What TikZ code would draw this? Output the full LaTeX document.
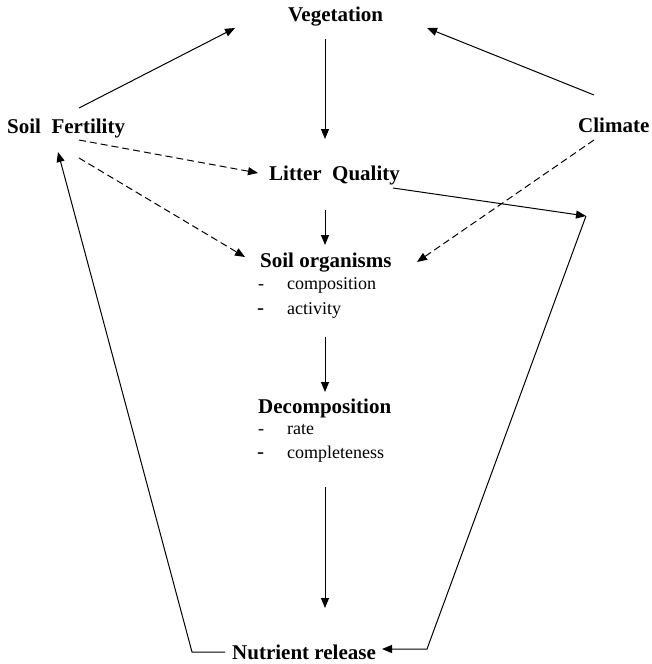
\documentclass[tikz,border=0pt]{standalone}
\usepackage{fontspec}
\setmainfont{Liberation Serif}
\usetikzlibrary{arrows.meta}
\tikzset{
  title/.style={anchor=base west, inner sep=0pt, font=\fontsize{21}{25}\selectfont\bfseries},
  item/.style={anchor=base west, inner sep=0pt, font=\fontsize{18}{22}\selectfont},
  conn/.style={line width=1pt, -{Triangle[length=10pt,width=8pt]}},
  dconn/.style={conn, dash pattern=on 7pt off 4pt},
  plain/.style={line width=1pt}
}
\begin{document}
\begin{tikzpicture}[x=1pt,y=-1pt]
\useasboundingbox (0,0) rectangle (652,664);
% text nodes
\node[title] (veg) at (288,21) {Vegetation};
\node[title] (sf) at (7,133) {Soil\ \ Fertility};
\node[title] (clim) at (578,132) {Climate};
\node[title] (lq) at (269,180) {Litter\ \ Quality};
\node[title] (so) at (260,267) {Soil organisms};
\node[item] (so-d1) at (258,289) {-};
\node[item] (so-i1) at (287,289) {composition};
\node[item] (so-d2) at (257,314) {\fontsize{21}{25}\selectfont -};
\node[item] (so-i2) at (287,314) {activity};
\node[title] (dec) at (258,413) {Decomposition};
\node[item] (dec-d1) at (258,434) {-};
\node[item] (dec-i1) at (287,434) {rate};
\node[item] (dec-d2) at (257,458) {\fontsize{21}{25}\selectfont -};
\node[item] (dec-i2) at (287,458) {completeness};
\node[title] (nr) at (232,659) {Nutrient release};
% connector end points
\coordinate (sf-a) at (79,108);
\coordinate (sf-b) at (79,140);
\coordinate (sf-c) at (79,158);
\coordinate (sf-in) at (58,152);
\coordinate (veg-l) at (235,28);
\coordinate (veg-r) at (427,28);
\coordinate (veg-b) at (325,39);
\coordinate (clim-a) at (594,95);
\coordinate (clim-b) at (594,140);
\coordinate (lq-t) at (325,139);
\coordinate (lq-l) at (258,173);
\coordinate (lq-b) at (325,210);
\coordinate (lq-r) at (393,188);
\coordinate (corner) at (586,216);
\coordinate (so-t) at (325,245);
\coordinate (so-l) at (245,257);
\coordinate (so-r) at (417,262);
\coordinate (so-b) at (325,337);
\coordinate (dec-t) at (325,392);
\coordinate (dec-b) at (325,487);
\coordinate (nr-t) at (325,608);
\coordinate (nr-r) at (382,649);
\coordinate (nr-rc) at (427,649);
\coordinate (nr-l) at (225,652);
\coordinate (nr-lc) at (192,652);
% connectors
\draw[conn] (sf-a) -- (veg-l);
\draw[conn] (clim-a) -- (veg-r);
\draw[conn] (veg-b) -- (lq-t);
\draw[dconn] (sf-b) -- (lq-l);
\draw[dconn] (sf-c) -- (so-l);
\draw[dconn] (clim-b) -- (so-r);
\draw[conn] (lq-b) -- (so-t);
\draw[conn] (lq-r) -- (corner);
\draw[conn] (corner) -- (nr-rc) -- (nr-r);
\draw[conn] (so-b) -- (dec-t);
\draw[conn] (dec-b) -- (nr-t);
\draw[conn] (nr-l) -- (nr-lc) -- (sf-in);
\end{tikzpicture}
\end{document}
